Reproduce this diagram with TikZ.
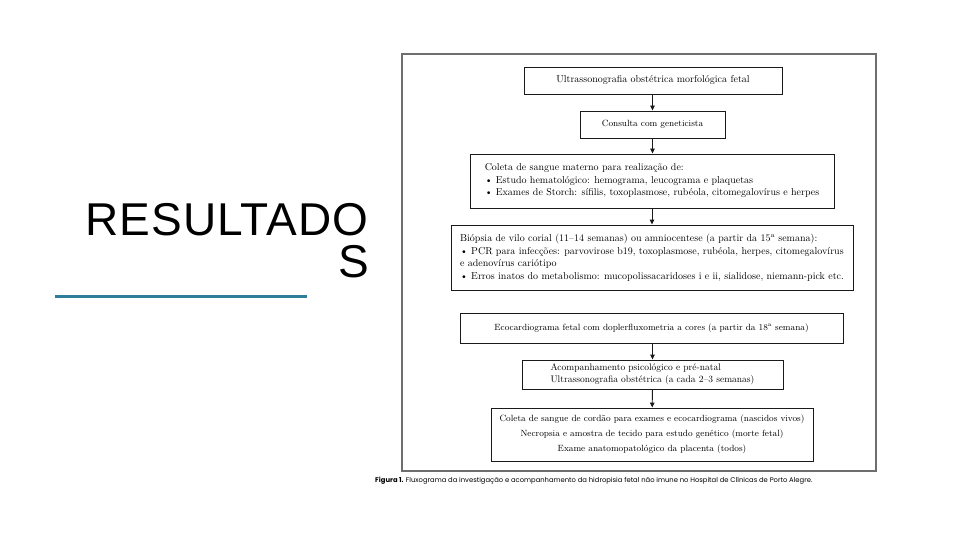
\documentclass[tikz,border=0pt]{standalone}
\usepackage{fontspec}
\usetikzlibrary{arrows.meta,positioning}
\newfontfamily\titulofont[LetterSpace=2.5]{Liberation Sans}
\newfontfamily\legendafont{Poppins}
\definecolor{ink}{HTML}{1A1A1A}
\definecolor{moldura}{HTML}{6E6E6E}
\definecolor{faixa}{HTML}{2F7D9B}

\begin{document}
\begin{tikzpicture}[x=1pt,y=-1pt,>={Triangle[width=4.5pt,length=5pt]},
    caixa/.style={draw=ink,line width=0.9pt,inner sep=0pt,
                  font=\fontsize{9}{12.5}\selectfont},
    maior/.style={font=\fontsize{10}{12.5}\selectfont}]
  \useasboundingbox (0,0) rectangle (960,540);

  \node[font=\titulofont\fontsize{46}{42}\selectfont,align=right,
        anchor=north east,inner sep=0pt] (titulo) at (369,203) {RESULTADO\\S};
  \coordinate (faixaA) at (55,296);
  \coordinate (faixaB) at (307,296);
  \draw[faixa,line width=3pt] (faixaA) -- (faixaB);

  \draw[moldura,line width=1.3pt] (402,54) rectangle (876,471);

  \node[caixa,maior,minimum width=258pt,minimum height=27pt] (ultra) at (653,80.5)
    {Ultrassonografia obstétrica morfológica fetal};
  \node[caixa,minimum width=145pt,minimum height=27pt] (consulta) at (652.5,124.5)
    {Consulta com geneticista};
  \node[caixa,maior,minimum width=364pt,minimum height=54pt,align=left] (materno) at (652,181)
    {Coleta de sangue materno para realização de:\\
     \textbullet\ Estudo hematológico: hemograma, leucograma e plaquetas\\
     \textbullet\ Exames de Storch: sífilis, toxoplasmose, rubéola, citomegalovírus e herpes};
  \node[caixa,maior,minimum width=402pt,minimum height=65pt,align=left] (biopsia) at (652,257.5)
    {Biópsia de vilo corial (11–14 semanas) ou amniocentese (a partir da 15\textsuperscript{a} semana):\\
     \textbullet\ PCR para infecções: parvovirose b19, toxoplasmose, rubéola, herpes, citomegalovírus\\
     e adenovírus cariótipo\\
     \textbullet\ Erros inatos do metabolismo: mucopolissacaridoses i e ii, sialidose, niemann-pick etc.};
  \node[caixa,minimum width=383pt,minimum height=30pt] (eco) at (651.5,328)
    {Ecocardiograma fetal com doplerfluxometria a cores (a partir da 18\textsuperscript{a} semana)};
  \node[caixa,font=\fontsize{9.5}{12.5}\selectfont,minimum width=261pt,minimum height=29pt,
        align=left] (acomp) at (652.5,374.5)
    {Acompanhamento psicológico e pré-natal\\
     Ultrassonografia obstétrica (a cada 2–3 semanas)};
  \node[caixa,font=\fontsize{9}{15}\selectfont,minimum width=322pt,minimum height=53pt,
        align=center] (cordao) at (652,434.5)
    {Coleta de sangue de cordão para exames e ecocardiograma (nascidos vivos)\\
     Necropsia e amostra de tecido para estudo genético (morte fetal)\\
     Exame anatomopatológico da placenta (todos)};

  \draw[->,ink,line width=0.9pt] (ultra.south -| consulta.north) -- (consulta);
  \draw[->,ink,line width=0.9pt] (consulta) -- (consulta.south |- materno.north);
  \draw[->,ink,line width=0.9pt] (materno) -- (biopsia);
  \draw[->,ink,line width=0.9pt] (eco.south -| acomp.north) -- (acomp.north);
  \draw[->,ink,line width=0.9pt] (acomp) -- (cordao);

  \node[font=\legendafont\fontsize{6.8}{8}\selectfont,anchor=west,inner sep=0pt] (legenda) at (375,481)
    {\textbf{Figura 1.} Fluxograma da investigação e acompanhamento da hidropisia fetal não imune no Hospital de Clínicas de Porto Alegre.};
\end{tikzpicture}
\end{document}
